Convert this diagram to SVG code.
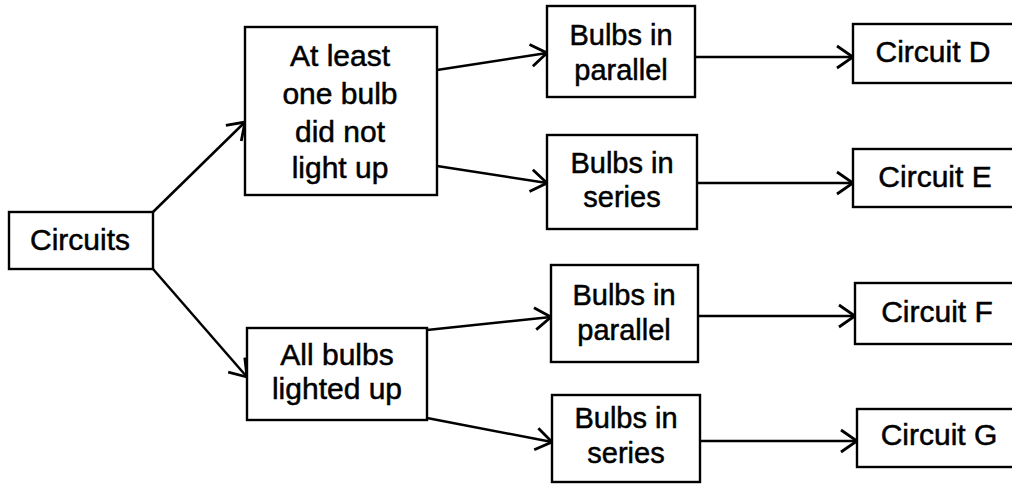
<svg xmlns="http://www.w3.org/2000/svg" width="1012" height="484" viewBox="0 0 1012 484">
<style>
.box{fill:#fff;stroke:#000;stroke-width:2.4}
.t{font-family:"Liberation Sans",Arial,sans-serif;font-size:30px;fill:#000;stroke:#000;stroke-width:0.5;text-anchor:middle}
.b{font-size:29px}
.ln{stroke:#000;stroke-width:2.5;fill:none;marker-end:url(#ah)}
</style>
<defs>
<marker id="ah" markerUnits="userSpaceOnUse" viewBox="-19 -14 21 28" markerWidth="21" markerHeight="28" refX="0" refY="0" orient="auto">
<path d="M-16,-11 L0,0 L-16,11" fill="none" stroke="#000" stroke-width="2.8"/>
</marker>
</defs>
<rect width="1012" height="484" fill="#fff"/>
<g id="connectors">
<line class="ln" x1="153" y1="212" x2="245" y2="122"/>
<line class="ln" x1="153" y1="269" x2="247" y2="377"/>
<line class="ln" x1="437" y1="70" x2="547" y2="53"/>
<line class="ln" x1="437" y1="166" x2="547" y2="183"/>
<line class="ln" x1="427" y1="330" x2="551" y2="317"/>
<line class="ln" x1="427" y1="418" x2="552" y2="442"/>
<line class="ln" x1="695" y1="57" x2="853" y2="57"/>
<line class="ln" x1="697" y1="183" x2="853" y2="183"/>
<line class="ln" x1="698" y1="316" x2="855" y2="316"/>
<line class="ln" x1="700" y1="441" x2="857" y2="441"/>
</g>
<g id="n-circuits">
<rect class="box" x="9" y="212" width="144" height="57"/>
<text class="t" x="80" y="250">Circuits</text>
</g>
<g id="n-atleast">
<rect class="box" x="245" y="27" width="192" height="168"/>
<text class="t" x="340" y="66">At least</text>
<text class="t" x="340" y="104">one bulb</text>
<text class="t" x="340" y="142">did not</text>
<text class="t" x="340" y="178">light up</text>
</g>
<g id="n-allbulbs">
<rect class="box" x="247" y="328" width="180" height="92"/>
<text class="t" x="337" y="365">All bulbs</text>
<text class="t" x="337" y="399">lighted up</text>
</g>
<g id="n-par1">
<rect class="box" x="547" y="6" width="148" height="91"/>
<text class="t b" x="621" y="45">Bulbs in</text>
<text class="t b" x="621" y="80">parallel</text>
</g>
<g id="n-ser1">
<rect class="box" x="547" y="135" width="150" height="94"/>
<text class="t b" x="622" y="173">Bulbs in</text>
<text class="t b" x="622" y="207">series</text>
</g>
<g id="n-par2">
<rect class="box" x="551" y="265" width="147" height="97"/>
<text class="t b" x="624" y="305">Bulbs in</text>
<text class="t b" x="624" y="340">parallel</text>
</g>
<g id="n-ser2">
<rect class="box" x="552" y="395" width="148" height="87"/>
<text class="t b" x="626" y="428">Bulbs in</text>
<text class="t b" x="626" y="463">series</text>
</g>
<g id="n-d">
<rect class="box" x="853" y="24" width="170" height="59"/>
<text class="t" x="933" y="62">Circuit D</text>
</g>
<g id="n-e">
<rect class="box" x="853" y="149" width="170" height="58"/>
<text class="t" x="935" y="187">Circuit E</text>
</g>
<g id="n-f">
<rect class="box" x="855" y="283" width="170" height="61"/>
<text class="t" x="937" y="322">Circuit F</text>
</g>
<g id="n-g">
<rect class="box" x="857" y="409" width="170" height="58"/>
<text class="t" x="939" y="445">Circuit G</text>
</g>
</svg>
